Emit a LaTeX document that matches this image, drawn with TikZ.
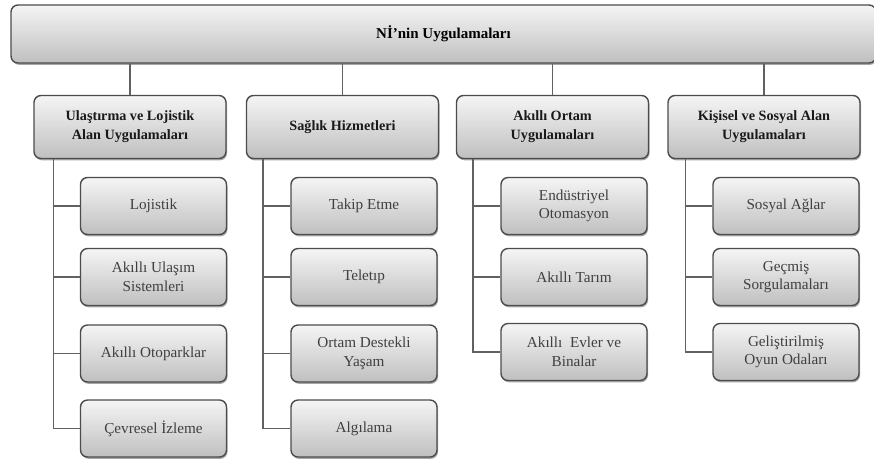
\documentclass[tikz,border=0pt]{standalone}
\usepackage{fontspec}
\setmainfont{Liberation Serif}
\usetikzlibrary{shadows}
\begin{document}
\begin{tikzpicture}[x=1pt,y=-1pt,
 box/.style={draw=black!70, line width=1.4pt, rounded corners=7pt,
   top color=black!4, bottom color=black!25,
   drop shadow={shadow xshift=1pt, shadow yshift=-1.8pt, fill=black, opacity=0.35},
   align=center, inner sep=2pt},
 topbox/.style={box, minimum width=865pt, minimum height=58pt, font=\fontsize{15}{19}\selectfont\bfseries},
 catbox/.style={box, minimum width=192pt, minimum height=63pt, font=\fontsize{14.2}{19}\selectfont\bfseries, text=black!90},
 leafbox/.style={box, minimum width=146pt, minimum height=57pt, font=\fontsize{15.2}{18.5}\selectfont, text=black!75},
 link/.style={draw=black!62, line width=1.6pt}]
\useasboundingbox (0,0) rectangle (874,459);

\node[topbox] (top) at (443.5,34) {Nİ’nin Uygulamaları};

\node[catbox] (c1) at (130,127) {Ulaştırma ve Lojistik\\Alan Uygulamaları};
\node[catbox] (c2) at (342.5,127) {Sağlık Hizmetleri};
\node[catbox] (c3) at (552.5,127) {Akıllı Ortam\\Uygulamaları};
\node[catbox] (c4) at (764,127) {Kişisel ve Sosyal Alan\\Uygulamaları};

\node[leafbox] (a1) at (153.5,206) {Lojistik};
\node[leafbox] (a2) at (153.5,277) {Akıllı Ulaşım\\Sistemleri};
\node[leafbox] (a3) at (153.5,353.5) {Akıllı Otoparklar};
\node[leafbox] (a4) at (153.5,428.5) {Çevresel İzleme};

\node[leafbox] (b1) at (364,206) {Takip Etme};
\node[leafbox] (b2) at (364,277) {Teletıp};
\node[leafbox] (b3) at (364,353.5) {Ortam Destekli\\Yaşam};
\node[leafbox] (b4) at (364,428.5) {Algılama};

\node[leafbox] (d1) at (574,206) {Endüstriyel\\Otomasyon};
\node[leafbox] (d2) at (574,277) {Akıllı Tarım};
\node[leafbox] (d3) at (574,352) {Akıllı \ Evler ve\\Binalar};

\node[leafbox] (e1) at (786,206) {Sosyal Ağlar};
\node[leafbox] (e2) at (786,277) {Geçmiş\\Sorgulamaları};
\node[leafbox] (e3) at (786,352) {Geliştirilmiş\\Oyun Odaları};

\foreach \c in {c1,c2,c3,c4}
  \draw[link] (top.south -| \c.north) -- (\c.north);

\foreach \l in {a1,a2,a3,a4}
  \draw[link] ([xshift=20pt]c1.south west) |- (\l.west);
\foreach \l in {b1,b2,b3,b4}
  \draw[link] ([xshift=17pt]c2.south west) |- (\l.west);
\foreach \l in {d1,d2,d3}
  \draw[link] ([xshift=17pt]c3.south west) |- (\l.west);
\foreach \l in {e1,e2,e3}
  \draw[link] ([xshift=18pt]c4.south west) |- (\l.west);
\end{tikzpicture}
\end{document}
